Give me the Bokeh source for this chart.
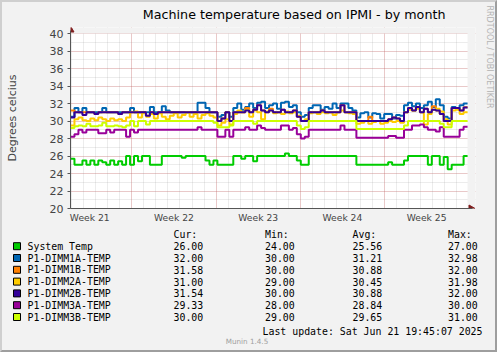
import numpy as np
from bokeh.plotting import figure
from bokeh.layouts import column, row
from bokeh.models import (Range1d, FixedTicker, SingleIntervalTicker, Grid, ColumnDataSource)
from bokeh.embed import file_html
from bokeh.resources import INLINE
from bokeh.core.properties import value

# ---------------- data ----------------
TITLE = "Machine temperature based on IPMI - by month"
Y_LABEL = "Degrees celcius"
WEEK_LABELS = ["Week 21", "Week 22", "Week 23", "Week 24", "Week 25"]
WEEK_LABEL_DAYS = [1.6, 8.6, 15.6, 22.6, 29.6]      # mid-week (days since start)
WEEK_START_DAYS = [5.1, 12.1, 19.1, 26.1]            # week boundaries
DAY_START_DAYS = [0.1 + k for k in range(33)]        # midnight lines
SPAN_DAYS = 33.0
SAMPLE_DAYS = 0.33
Y_MIN, Y_MAX = 20, 40

names = ["System Temp", "P1-DIMM1A-TEMP", "P1-DIMM1B-TEMP", "P1-DIMM2A-TEMP",
         "P1-DIMM2B-TEMP", "P1-DIMM3A-TEMP", "P1-DIMM3B-TEMP"]
colors = ["#00CC00", "#0066B3", "#FF8000", "#FFCC00", "#330099", "#990099", "#CCFF00"]
cur = ["26.00", "32.00", "31.58", "31.00", "31.54", "29.33", "30.00"]
mins = ["24.00", "30.00", "30.00", "29.00", "30.00", "28.00", "29.00"]
avgs = ["25.56", "31.21", "30.88", "30.45", "30.88", "28.84", "29.65"]
maxs = ["27.00", "32.98", "32.00", "31.98", "32.00", "30.00", "31.00"]
LAST_UPDATE = "Last update: Sat Jun 21 19:45:07 2025"
VERSION = "Munin 1.4.5"
WATERMARK = "RRDTOOL / TOBI OETIKER"

system_temp = [
    25.7, 25.0, 25.0, 25.5, 25.0, 25.5, 25.0, 25.5, 25.3, 25.0,
    25.5, 25.0, 25.4, 25.0, 26.0, 25.0, 26.0, 25.4, 26.0, 26.0,
    25.0, 25.0, 25.0, 26.0, 26.0, 26.0, 26.0, 26.0, 25.8, 26.0,
    26.0, 26.0, 26.0, 26.0, 25.5, 25.0, 25.5, 25.0, 25.0, 25.0,
    25.0, 26.0, 26.0, 25.7, 26.0, 26.0, 25.4, 26.0, 26.0, 26.0,
    26.0, 26.0, 26.0, 26.0, 26.3, 26.0, 26.0, 25.5, 25.0, 25.0,
    26.0, 26.0, 26.0, 26.0, 26.0, 26.0, 26.0, 26.0, 26.0, 26.0,
    26.0, 26.0, 25.0, 25.0, 25.0, 25.0, 25.0, 25.0, 25.0, 25.0,
    25.3, 25.0, 25.0, 25.0, 25.5, 26.0, 26.0, 26.0, 26.0, 26.0,
    25.0, 26.0, 26.0, 25.0, 25.9, 24.5, 25.0, 25.0, 25.0, 26.0]
dimm1a = [
    30.5, 31.5, 31.0, 31.5, 31.0, 31.0, 31.0, 31.0, 31.5, 31.0,
    31.0, 31.0, 31.0, 31.0, 31.0, 31.5, 31.0, 31.0, 31.0, 31.0,
    31.6, 31.0, 31.0, 31.7, 31.2, 31.0, 31.0, 31.0, 31.0, 31.0,
    31.0, 31.0, 32.1, 32.1, 31.5, 31.0, 31.0, 30.5, 30.7, 31.0,
    30.5, 31.5, 32.0, 31.3, 31.6, 32.0, 31.5, 32.1, 32.2, 31.5,
    31.8, 32.0, 31.4, 32.1, 32.2, 31.6, 31.8, 31.0, 30.5, 30.7,
    31.5, 31.8, 31.8, 31.3, 31.6, 31.4, 32.0, 31.5, 32.0, 32.0,
    31.5, 31.2, 30.4, 30.9, 31.0, 30.4, 30.9, 30.8, 30.3, 30.8,
    30.8, 30.3, 30.7, 30.6, 31.8, 32.1, 31.7, 32.0, 31.5, 31.8,
    32.2, 31.6, 32.5, 31.8, 30.5, 30.3, 31.6, 31.5, 31.8, 32.0]
dimm1b = [
    31.2, 31.0, 31.0, 31.0, 31.0, 31.0, 30.8, 31.0, 31.0, 31.0,
    31.0, 31.0, 30.8, 31.0, 31.0, 31.0, 31.0, 31.0, 31.0, 30.6,
    31.0, 30.8, 31.0, 31.0, 31.0, 31.0, 31.0, 31.0, 31.0, 31.0,
    31.0, 31.0, 31.0, 31.0, 31.0, 31.0, 31.0, 30.0, 30.3, 31.0,
    30.0, 31.0, 31.0, 31.0, 31.5, 31.0, 31.3, 31.8, 31.2, 31.0,
    31.4, 31.0, 31.0, 31.3, 31.0, 31.0, 31.2, 30.5, 30.0, 30.0,
    31.0, 31.0, 31.0, 31.2, 31.0, 31.0, 31.0, 31.0, 31.8, 31.0,
    31.0, 31.0, 30.0, 30.0, 30.0, 30.5, 30.0, 30.0, 30.0, 30.0,
    30.2, 30.4, 30.3, 30.0, 31.0, 31.5, 31.2, 31.6, 31.0, 31.4,
    31.0, 31.7, 31.2, 30.8, 30.0, 30.0, 31.5, 31.5, 31.2, 31.58]
dimm2a = [
    29.5, 30.2, 30.4, 30.1, 30.0, 30.3, 30.1, 30.4, 30.2, 30.0,
    30.3, 30.1, 30.2, 30.0, 30.4, 31.0, 31.1, 30.4, 30.9, 30.5,
    30.8, 30.3, 30.9, 30.5, 30.2, 30.6, 30.9, 30.4, 30.7, 31.0,
    30.5, 30.8, 30.3, 30.7, 30.9, 30.6, 30.4, 29.5, 29.8, 30.2,
    29.6, 30.8, 31.2, 31.0, 31.3, 30.5, 31.2, 31.0, 30.2, 31.1,
    31.2, 30.9, 31.0, 30.8, 31.1, 30.9, 31.0, 30.6, 30.0, 30.2,
    30.9, 31.0, 30.8, 31.0, 30.9, 31.0, 30.7, 31.0, 31.2, 31.0,
    30.9, 30.8, 29.7, 29.8, 30.0, 29.7, 29.9, 30.0, 29.7, 29.8,
    30.0, 29.9, 30.0, 29.8, 31.0, 31.3, 31.2, 31.4, 31.0, 29.6,
    30.8, 31.3, 31.4, 31.1, 30.2, 29.6, 31.2, 31.3, 30.8, 31.0]
dimm2b = [
    30.4, 31.0, 31.0, 30.7, 31.0, 31.0, 30.8, 31.0, 31.0, 31.0,
    31.0, 31.0, 30.8, 31.0, 31.0, 31.0, 31.0, 31.0, 31.0, 30.6,
    31.0, 30.8, 31.0, 31.0, 31.0, 31.0, 31.0, 31.0, 31.0, 31.0,
    31.0, 31.0, 31.0, 31.0, 31.0, 31.0, 31.0, 30.0, 30.3, 31.0,
    30.0, 31.0, 31.0, 31.0, 31.2, 31.0, 31.3, 31.8, 31.2, 31.0,
    31.2, 31.0, 31.0, 31.3, 31.0, 31.0, 31.2, 30.5, 30.0, 30.0,
    31.0, 31.0, 31.0, 31.2, 31.0, 31.0, 31.0, 31.0, 31.8, 31.0,
    31.0, 31.0, 30.0, 30.0, 30.0, 30.0, 30.0, 30.0, 30.0, 30.0,
    30.2, 30.4, 30.3, 30.0, 31.0, 31.5, 31.2, 31.6, 31.0, 31.4,
    31.0, 31.3, 31.2, 30.8, 30.0, 30.0, 31.5, 31.5, 31.2, 31.54]
dimm3a = [
    28.2, 28.5, 29.0, 28.7, 29.0, 29.0, 29.0, 28.6, 28.6, 29.0,
    28.7, 29.0, 29.0, 29.0, 28.2, 29.0, 28.7, 29.0, 29.0, 29.0,
    29.0, 29.0, 29.0, 29.0, 29.0, 29.0, 29.0, 29.0, 29.0, 29.0,
    29.0, 29.0, 29.3, 29.0, 29.0, 29.0, 29.0, 28.2, 28.2, 29.0,
    28.2, 29.0, 29.0, 29.0, 29.3, 29.0, 29.0, 29.5, 29.2, 29.0,
    29.0, 29.0, 29.0, 29.5, 29.5, 29.0, 29.2, 28.5, 28.0, 28.2,
    29.0, 29.0, 29.0, 29.0, 29.0, 29.0, 29.0, 29.0, 29.5, 29.0,
    29.0, 29.0, 28.1, 28.1, 28.1, 28.1, 28.1, 28.1, 28.1, 28.1,
    28.3, 28.3, 28.1, 28.1, 29.0, 29.0, 29.5, 29.5, 29.6, 29.3,
    29.0, 29.0, 28.8, 29.3, 28.2, 28.2, 28.2, 28.2, 29.0, 29.33]
dimm3b = [
    29.2, 29.4, 29.5, 29.4, 29.7, 29.4, 29.4, 29.5, 29.8, 29.4,
    29.4, 29.5, 29.4, 29.3, 29.5, 30.0, 29.4, 30.0, 30.0, 29.6,
    30.0, 30.0, 30.0, 30.0, 30.0, 30.0, 30.0, 30.0, 30.0, 30.0,
    30.0, 30.0, 30.0, 30.0, 30.0, 30.0, 29.8, 29.3, 29.3, 29.3,
    29.5, 30.0, 30.0, 30.0, 30.0, 30.0, 29.7, 30.0, 30.0, 30.0,
    30.0, 30.0, 30.0, 30.0, 30.0, 30.0, 30.0, 29.5, 29.1, 29.3,
    30.0, 30.0, 30.0, 30.0, 30.0, 30.0, 30.0, 30.0, 30.0, 30.0,
    30.0, 30.0, 29.1, 29.1, 29.1, 29.1, 29.1, 29.1, 29.1, 29.1,
    29.1, 29.1, 29.1, 29.1, 29.5, 30.0, 30.0, 30.0, 30.0, 30.0,
    30.0, 30.0, 30.0, 29.7, 29.3, 29.3, 30.0, 30.0, 30.0, 30.0]
series = [system_temp, dimm1a, dimm1b, dimm2a, dimm2b, dimm3a, dimm3b]

# ---------------- layout / style ----------------
BG = "#F2F2F2"
SHADE_A = "#CFCFCF"
SHADE_B = "#9E9E9E"
SANS = "DejaVu Sans"
MONO = "DejaVu Sans Mono"
AXIS_COLOR = "#555555"
ARROW_COLOR = "#801F1F"
MAJOR_GRID = "#DE4F4F"
MINOR_GRID = "#8F8F8F"

FRAME = 2                               # 3-D frame width around the picture
W, H = 497, 352
WM_W = 14                               # watermark strip width (right side)
FW = W - 2 * FRAME                      # 493
LW = FW - WM_W                          # 479: width of title + main figures
H_TITLE = 24                            # canvas y 2 .. 26
H_MAIN = 199                            # canvas y 26 .. 225
H_LEG = H - 2 * FRAME - H_TITLE - H_MAIN   # canvas y 225 .. 350
PLOT_X0, PLOT_Y0 = 67, 208              # canvas position of the data origin
PLOT_W_PX, PLOT_H_PX = 400, 175         # size of the data canvas in px
PAD_R, PAD_T = 8, 6                     # extra room for axis arrows
LEFT = PLOT_X0 - FRAME
RIGHT = LW - LEFT - PLOT_W_PX - PAD_R
TOP = (PLOT_Y0 - PLOT_H_PX - PAD_T) - (FRAME + H_TITLE)
BOTTOM = H_MAIN - TOP - PLOT_H_PX - PAD_T
x_end = SPAN_DAYS * (PLOT_W_PX + PAD_R) / PLOT_W_PX
y_end = Y_MIN + (Y_MAX - Y_MIN) * (PLOT_H_PX + PAD_T) / PLOT_H_PX
dx = SPAN_DAYS / PLOT_W_PX              # days per px
dy = (Y_MAX - Y_MIN) / PLOT_H_PX        # degrees per px


def blank(width, height, x0, y0):
    """Figure whose data coordinates are the picture's pixel coordinates."""
    f = figure(width=width, height=height, output_backend="svg", toolbar_location=None,
               x_range=Range1d(x0, x0 + width), y_range=Range1d(y0 + height, y0),
               min_border=0, x_axis_type=None, y_axis_type=None,
               background_fill_color=BG, border_fill_color=BG, outline_line_color=None)
    f.grid.visible = False
    return f


def txt(f, xs, ys, texts, align="left", font=MONO, size="9.9px", color="black",
        baseline="middle", angle=0.0):
    src = ColumnDataSource(dict(x=xs, y=ys, t=texts))
    f.text(x="x", y="y", text="t", source=src, text_font=value(font), text_font_size=size,
           text_align=align, text_baseline=baseline, text_color=color, angle=angle)


# ---- title strip ----
t = blank(LW, H_TITLE, FRAME, FRAME)
txt(t, [266.5], [13.5], [TITLE], align="center", font=SANS, size="12.7px")

# ---- watermark strip ----
wm = blank(WM_W, H_TITLE + H_MAIN, FRAME + LW, FRAME)
txt(wm, [489], [5], [WATERMARK], align="left", font=SANS, size="8px", color="#B4B4B4",
    angle=-np.pi / 2)

# ---- main chart ----
p = figure(width=LW, height=H_MAIN, output_backend="svg", toolbar_location=None,
           x_range=Range1d(0, x_end), y_range=Range1d(Y_MIN, y_end),
           min_border_left=LEFT, min_border_right=RIGHT, min_border_top=TOP,
           min_border_bottom=BOTTOM,
           background_fill_color="white", border_fill_color=BG, outline_line_color=None)

# y axis
yt = SingleIntervalTicker(interval=2, num_minor_ticks=2)
p.yaxis.ticker = yt
p.yaxis.bounds = (Y_MIN, y_end - 3 * dy)
p.yaxis.axis_label = Y_LABEL
p.yaxis.axis_label_text_font = SANS
p.yaxis.axis_label_text_font_size = "11px"
p.yaxis.axis_label_text_font_style = "normal"
p.yaxis.axis_label_standoff = 28
p.yaxis.major_label_text_font = SANS
p.yaxis.major_label_text_font_size = "11px"
p.yaxis.major_label_standoff = 4
p.yaxis.major_tick_out = 3
p.yaxis.major_tick_in = 0
p.yaxis.minor_tick_out = 0
p.yaxis.minor_tick_in = 0
p.yaxis.axis_line_color = AXIS_COLOR
p.yaxis.major_tick_line_color = AXIS_COLOR

# x axis
p.xaxis.ticker = FixedTicker(ticks=WEEK_LABEL_DAYS)
p.xaxis.bounds = (0, x_end - 3 * dx)
p.xaxis.major_label_overrides = {d: l for d, l in zip(WEEK_LABEL_DAYS, WEEK_LABELS)}
p.xaxis.major_label_text_font = SANS
p.xaxis.major_label_text_font_size = "9.2px"
p.xaxis.major_label_standoff = 3
p.xaxis.major_tick_out = 0
p.xaxis.major_tick_in = 0
p.xaxis.minor_tick_out = 0
p.xaxis.minor_tick_in = 0
p.xaxis.major_tick_line_color = None
p.xaxis.minor_tick_line_color = None
p.xaxis.axis_line_color = AXIS_COLOR

# grids
MAJ_A, MIN_A = 0.45, 0.35
p.xgrid.visible = False
p.ygrid.ticker = yt
p.ygrid.grid_line_color = MAJOR_GRID
p.ygrid.grid_line_alpha = MAJ_A
p.ygrid.grid_line_dash = "1 1"
p.ygrid.minor_grid_line_color = MINOR_GRID
p.ygrid.minor_grid_line_alpha = MIN_A
p.ygrid.minor_grid_line_dash = "1 1"
p.add_layout(Grid(dimension=0, ticker=FixedTicker(ticks=DAY_START_DAYS),
                  grid_line_color=MINOR_GRID, grid_line_alpha=MIN_A, grid_line_dash="1 1"))
p.add_layout(Grid(dimension=0, ticker=FixedTicker(ticks=WEEK_START_DAYS),
                  grid_line_color=MAJOR_GRID, grid_line_alpha=MAJ_A, grid_line_dash="1 1"))

# mask the arrow room (outside the data canvas) with the page colour
p.quad(left=[SPAN_DAYS, 0], right=[x_end, x_end], bottom=[Y_MIN, Y_MAX], top=[y_end, y_end],
       fill_color=BG, line_color=None)

# lines
x = np.arange(len(system_temp) + 1) * SAMPLE_DAYS
for vals, col in zip(series, colors):
    y = list(vals) + [vals[-1]]
    p.step(x, y, mode="after", line_color=col, line_width=2)

# axis arrow heads
p.scatter(x=[SPAN_DAYS + 3.5 * dx], y=[Y_MIN], marker="triangle", size=7, angle=-np.pi / 2,
          fill_color=ARROW_COLOR, line_color=ARROW_COLOR)
p.scatter(x=[0], y=[Y_MAX + 3.5 * dy], marker="triangle", size=7,
          fill_color=ARROW_COLOR, line_color=ARROW_COLOR)

# ---- legend table ----
q = blank(FW, H_LEG, FRAME, FRAME + H_TITLE + H_MAIN)
LY0 = FRAME + H_TITLE + H_MAIN          # 225
row_y = [LY0 + 20.7 + 11.8 * k for k in range(len(names))]
q.rect(x=16.5, y=row_y, width=7, height=7, fill_color=colors, line_color="black", line_width=1)

COLX = [173, 264.5, 352, 447.5]
txt(q, COLX, [LY0 + 9] * 4, ["Cur:", "Min:", "Avg:", "Max:"])
txt(q, [27] * len(names), row_y, names)
for cx, col in zip(COLX, [cur, mins, avgs, maxs]):
    txt(q, [cx] * len(col), row_y, col)
txt(q, [482], [LY0 + 106], [LAST_UPDATE], align="right")
txt(q, [246.5], [LY0 + 115.7], [VERSION], align="center", font=SANS, size="7.2px",
    color="#A0A0A0")

top_block = row(column(t, p, spacing=0), wm, spacing=0)
layout = column(top_block, q, spacing=0, styles={
    "border-style": "solid", "border-width": f"{FRAME}px",
    "border-color": f"{SHADE_A} {SHADE_B} {SHADE_B} {SHADE_A}",
    "background-color": BG})
open("out.html", "w").write(file_html(layout, INLINE))
